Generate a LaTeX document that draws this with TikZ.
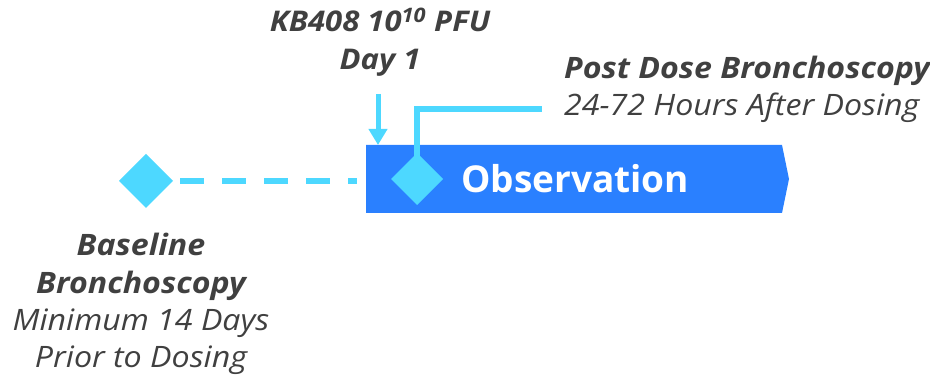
\documentclass[tikz,border=0pt]{standalone}
\usepackage{fontspec}
\setmainfont{Open Sans}
\newfontfamily\lblfont[FakeStretch=1.09]{Open Sans}
\usetikzlibrary{arrows.meta}
\definecolor{txtgray}{HTML}{404040}
\definecolor{barblue}{HTML}{2A80FF}
\definecolor{lightcyan}{HTML}{4DD8FF}
\tikzset{
  lbl/.style={text=txtgray, inner sep=0pt, anchor=base, font=\lblfont\fontsize{29.5}{29.5}\selectfont\itshape},
  lblb/.style={lbl, font=\lblfont\fontsize{29.5}{29.5}\selectfont\bfseries\itshape},
  lblk/.style={lbl, font=\lblfont\fontsize{28.5}{28.5}\selectfont\bfseries\itshape},
  dia/.style={fill=lightcyan, draw=none},
  cyanline/.style={draw=lightcyan, line width=5.5pt},
}
\begin{document}
\begin{tikzpicture}[x=1pt,y=-1pt]
\useasboundingbox (0,0) rectangle (930,379);
% observation bar
\fill[barblue] (366,145) -- (782,145) -- (789,179) -- (782,213) -- (366,213) -- cycle;
\node[text=white, font=\fontsize{37}{37}\selectfont\bfseries, anchor=west, inner sep=0pt] (obs) at (461,179) {Observation};
% diamonds
\fill[dia] (146,154) -- (173,181) -- (146,208) -- (119,181) -- cycle;
\coordinate (d1) at (146,181);
\fill[dia] (417,153) -- (443,179) -- (417,205) -- (391,179) -- cycle;
\coordinate (d2top) at (417,156);
% dashed connector
\coordinate (dashA) at (180,181);
\coordinate (dashB) at (357,181);
\draw[draw=lightcyan, line width=5.5pt, dash pattern=on 24pt off 18pt] (dashA) -- (dashB);
% post dose connector
\coordinate (pd) at (542,109);
\draw[cyanline] (d2top) |- (pd);
% arrow
\coordinate (arrTop) at (378,94);
\coordinate (arrBot) at (378,145);
\draw[draw=lightcyan, line width=5pt, -{Triangle[length=16pt,width=18pt]}] (arrTop) -- (arrBot);
% texts
\node[lblk] (kb) at (380,32) {KB408 10\textsuperscript{10} PFU};
\node[lblk] (day) at (380,70) {Day 1};
\node[lblb, anchor=base west] (post) at (564,79) {Post Dose Bronchoscopy};
\node[lbl, anchor=base west] (hrs) at (564,116) {24-72 Hours After Dosing};
\node[lblb] (b1) at (141,256) {Baseline};
\node[lblb] (b2) at (141,294) {Bronchoscopy};
\node[lbl] (b3) at (141,331) {Minimum 14 Days};
\node[lbl] (b4) at (141,368) {Prior to Dosing};
\end{tikzpicture}
\end{document}
